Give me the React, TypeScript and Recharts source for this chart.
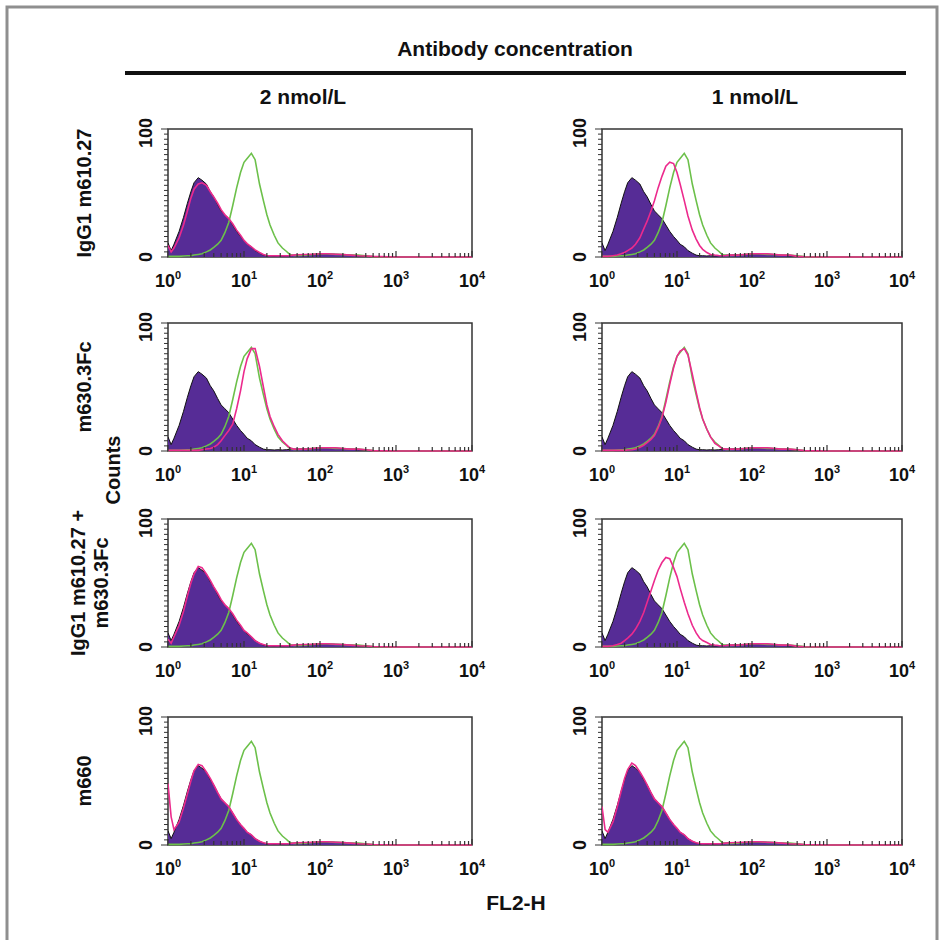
import { Area, ComposedChart, Line, ReferenceArea, XAxis, YAxis } from "recharts";

// channel positions (FL2-H, log scale)
const xs = [1, 1.1, 1.2, 1.4, 1.6, 1.8, 2, 2.2, 2.5, 2.8, 3.2, 3.6, 4, 4.5, 5, 5.6, 6.3, 7.1, 8, 9, 10, 11, 12.5, 14, 16, 18, 20, 22, 25, 28, 32, 36, 40, 45, 50, 63, 80, 100, 125, 160, 200, 250, 320, 400, 500, 1000, 10000];

// filled control histogram (same in every panel)
const control = [11, 5, 10, 20, 31, 42, 51, 58, 62, 60, 57, 51, 47, 41, 36, 33, 30, 25, 20, 16, 13, 10, 8, 5, 3, 1.5, 1, 1, 0.8, 1, 0.8, 1, 1.2, 1.5, 1.5, 1.8, 2, 2.2, 2.5, 2.2, 2, 1.5, 1, 0.5, 0.2, 0, 0];

// green reference histogram
const green = [0.5, 0.5, 0.5, 0.5, 0.8, 1, 1, 1.5, 2, 2.5, 4, 5.5, 7.5, 10, 13, 19, 27, 40, 54, 66, 74, 77, 81, 76, 57, 44, 33, 25, 17, 11, 7, 4.5, 2, 1.2, 1.2, 1.5, 2, 2.5, 2.5, 2, 2, 1.5, 1.5, 1, 0.3, 0, 0];

// magenta histograms, one per panel
const magR1L = [9, 4, 7, 15, 25, 36, 46, 53, 57, 58, 56, 51, 47, 42, 37, 33, 30, 26, 21, 17, 13, 10.5, 8, 5.5, 3.5, 2, 1.2, 1, 1, 1, 1, 1, 1.2, 1.5, 1.8, 2, 2.2, 2.5, 2.5, 2.2, 2, 1.5, 1, 0.8, 0.5, 0, 0];
const magR1R = [0.5, 0.5, 0.5, 1, 1.5, 2.5, 3.5, 5, 7, 10, 15, 22, 28, 36, 44, 54, 63, 71, 74, 73, 66, 57, 44, 32, 21, 14, 9, 6, 3.5, 2, 1.5, 1.2, 1, 1.2, 1.5, 1.5, 2, 2.5, 2.5, 2.5, 2, 1.5, 1.5, 0.5, 0.2, 0, 0];
const magR2L = [0.5, 0.5, 0.5, 0.5, 0.5, 0.5, 0.5, 0.5, 0.5, 1, 1.5, 2, 3, 5, 8, 12, 16, 21, 33, 47, 62, 72, 80, 80, 66, 50, 36, 27, 19, 13, 8, 5, 2.5, 1.5, 1.5, 1.5, 2, 2.5, 2.5, 2.5, 2, 1.5, 1.5, 1, 0.3, 0, 0];
const magR2R = [0.5, 0.5, 0.5, 0.5, 0.5, 0.5, 0.5, 0.8, 1, 1.5, 3, 4.5, 6.5, 9, 12, 18, 26, 38, 52, 65, 74, 78, 80, 75, 60, 46, 34, 25, 17, 11, 6, 4, 2, 1.5, 1.5, 1.5, 2, 2.5, 2.5, 2.5, 2, 1.5, 1.5, 1, 0.3, 0, 0];
const magR3L = [6, 3, 8, 17, 28, 40, 50, 57, 63, 62, 57, 52, 47, 42, 37, 33, 30, 26, 21, 17, 13, 11, 8, 5, 3, 2, 1.2, 1, 1, 1, 1, 1, 1.2, 1.5, 1.8, 2, 2.2, 2.5, 2.5, 2.2, 2, 1.5, 1, 0.8, 0.4, 0, 0];
const magR3R = [0.5, 0.5, 0.5, 1, 2, 3, 5, 7, 10, 14, 20, 27, 35, 44, 52, 60, 66, 70, 69, 62, 55, 46, 35, 26, 17, 11, 7, 5, 3.5, 2, 1.5, 1.2, 1, 1.2, 1.5, 1.5, 2, 2.5, 2.5, 2.5, 2, 1.5, 1.5, 0.5, 0.2, 0, 0];
const magR4L = [48, 22, 12, 18, 29, 40, 50, 58, 63, 62, 57, 52, 47, 41, 36, 33, 30, 25, 20, 16, 13, 10, 8, 5, 3, 1.8, 1.2, 1, 1, 1, 1, 1, 1.2, 1.5, 1.8, 2, 2.2, 2.5, 2.5, 2.2, 2, 1.5, 1, 0.8, 0.4, 0, 0];
const magR4R = [30, 12, 10, 18, 30, 42, 52, 59, 64, 62, 57, 52, 47, 41, 36, 33, 30, 25, 20, 16, 13, 10, 8, 5, 3, 1.8, 1.2, 1, 1, 1, 1, 1, 1.2, 1.5, 1.8, 2, 2.2, 2.5, 2.5, 2.2, 2, 1.5, 1, 0.8, 0.4, 0, 0];

const xTicks = [1, 2, 3, 4, 5, 6, 7, 8, 9, 10, 20, 30, 40, 50, 60, 70, 80, 90, 100, 200, 300, 400, 500, 600, 700, 800, 900, 1000, 2000, 3000, 4000, 5000, 6000, 7000, 8000, 9000, 10000];
const decadeExp: Record<number, string> = { 1: "0", 10: "1", 100: "2", 1000: "3", 10000: "4" };
const yTicks = [0, 4, 8, 12, 16, 20, 24, 28, 32, 36, 40, 44, 48, 52, 56, 60, 64, 68, 72, 76, 80, 84, 88, 92, 96, 100];

const rowLabels = [["IgG1 m610.27"], ["m630.3Fc"], ["IgG1 m610.27 +", "m630.3Fc"], ["m660"]];
const colLabels = ["2 nmol/L", "1 nmol/L"];

const panels = [
  { row: 0, col: 0, mag: magR1L },
  { row: 0, col: 1, mag: magR1R },
  { row: 1, col: 0, mag: magR2L },
  { row: 1, col: 1, mag: magR2R },
  { row: 2, col: 0, mag: magR3L },
  { row: 2, col: 1, mag: magR3R },
  { row: 3, col: 0, mag: magR4L },
  { row: 3, col: 1, mag: magR4R },
];

const FONT = '"Liberation Sans", Arial, Helvetica, sans-serif';
const COL_LEFT = [168, 602];
const COL_W = [304, 300];
const ROW_TOP = [129, 323, 519, 717];
const BOX_H = 128;
const Y_W = 50;
const TOP = 28;
const RIGHT = 24;
const X_H = 40;

function XTick({ x, y, payload }: any) {
  const exp = decadeExp[payload.value];
  const major = exp !== undefined;
  return (
    <g>
      <line x1={x} x2={x} y1={y} y2={y - (major ? 6 : 4)} stroke="#333" strokeWidth={1.2} />
      {major && (
        <text x={x} y={y + 30} textAnchor="middle" fontSize={18} fontWeight="bold" fill="#111" fontFamily={FONT}>
          10
          <tspan fontSize={11} dy={-8}>
            {exp}
          </tspan>
        </text>
      )}
    </g>
  );
}

function YTick({ x, y, payload }: any) {
  const v = payload.value;
  const major = v === 0 || v === 100;
  const lx = x - 22;
  const ly = v === 100 ? y + 4 : y;
  return (
    <g>
      <line x1={x} x2={x - (major ? 7 : 4)} y1={y} y2={y} stroke="#333" strokeWidth={1} />
      {major && (
        <text
          x={lx}
          y={ly}
          dy="0.36em"
          transform={`rotate(-90 ${lx} ${ly})`}
          textAnchor="middle"
          fontSize={18}
          fontWeight="bold"
          fill="#111"
          fontFamily={FONT}
        >
          {v}
        </text>
      )}
    </g>
  );
}

function Panel({ row, col, mag }: { row: number; col: number; mag: number[] }) {
  const rows = xs.map((x, i) => ({ x, ctrl: control[i], green: green[i], mag: mag[i] }));
  const w = COL_W[col];
  return (
    <div style={{ position: "absolute", left: COL_LEFT[col] - Y_W, top: ROW_TOP[row] - TOP }}>
      <ComposedChart
        width={w + Y_W + RIGHT}
        height={BOX_H + TOP + X_H}
        data={rows}
        margin={{ top: TOP, right: RIGHT, bottom: 0, left: 0 }}
      >
        <XAxis
          dataKey="x"
          type="number"
          scale="log"
          domain={[1, 10000]}
          allowDataOverflow
          ticks={xTicks}
          interval={0}
          tick={<XTick />}
          tickLine={false}
          axisLine={false}
          tickSize={0}
          tickMargin={0}
          height={X_H}
        />
        <YAxis
          type="number"
          domain={[0, 100]}
          ticks={yTicks}
          interval={0}
          tick={<YTick />}
          tickLine={false}
          axisLine={false}
          tickSize={0}
          tickMargin={0}
          width={Y_W}
        />
        <ReferenceArea x1={1} x2={10000} y1={0} y2={100} fill="none" stroke="#333" strokeWidth={1.5} ifOverflow="visible" />
        <Area
          dataKey="ctrl"
          type="linear"
          fill="#562c96"
          fillOpacity={1}
          stroke="#111"
          strokeWidth={1}
          dot={false}
          activeDot={false}
          isAnimationActive={false}
        />
        <Line dataKey="green" type="linear" stroke="#6cc04a" strokeWidth={1.6} dot={false} activeDot={false} isAnimationActive={false} />
        <Line dataKey="mag" type="linear" stroke="#ec2a8d" strokeWidth={1.6} dot={false} activeDot={false} isAnimationActive={false} />
      </ComposedChart>
    </div>
  );
}

function Labels() {
  const txt = { fontFamily: FONT, fontWeight: "bold" as const, fill: "#111" };
  return (
    <svg width={942} height={940} style={{ position: "absolute", left: 0, top: 0 }}>
      <path d="M7 940 L7 7 L937 7 L937 940" fill="none" stroke="#8f8f8f" strokeWidth={3} />
      <text x={515} y={56} textAnchor="middle" fontSize={21} {...txt}>
        Antibody concentration
      </text>
      <line x1={125} x2={906} y1={73} y2={73} stroke="#111" strokeWidth={4} />
      {colLabels.map((c, i) => (
        <text key={c} x={i === 0 ? 303 : 755} y={104} textAnchor="middle" fontSize={21} {...txt}>
          {c}
        </text>
      ))}
      {rowLabels.map((lines, r) => {
        const cy = ROW_TOP[r] + BOX_H / 2;
        return lines.map((l, k) => {
          const cx = lines.length === 1 ? 84 : 78 + k * 23;
          return (
            <text
              key={`${r}-${k}`}
              x={cx}
              y={cy}
              dy="0.36em"
              transform={`rotate(-90 ${cx} ${cy})`}
              textAnchor="middle"
              fontSize={20}
              {...txt}
            >
              {l}
            </text>
          );
        });
      })}
      <text x={113} y={470} dy="0.36em" transform="rotate(-90 113 470)" textAnchor="middle" fontSize={20} {...txt}>
        Counts
      </text>
      <text x={516} y={910} textAnchor="middle" fontSize={21} {...txt}>
        FL2-H
      </text>
    </svg>
  );
}

export default function App() {
  return (
    <div style={{ position: "fixed", left: 0, top: 0, width: 942, height: 940, background: "#fff", overflow: "hidden" }}>
      <Labels />
      {panels.map((p) => (
        <Panel key={`${p.row}-${p.col}`} row={p.row} col={p.col} mag={p.mag} />
      ))}
    </div>
  );
}
